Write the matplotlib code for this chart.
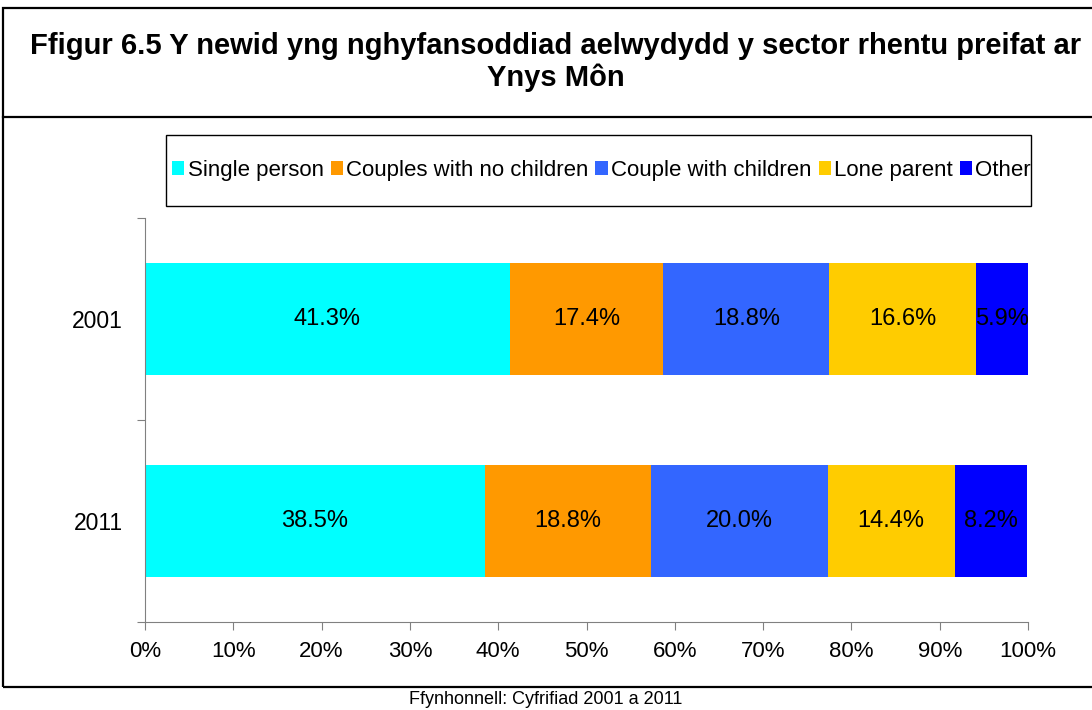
"""
Stacked percentage bars: private rented sector household composition, Ynys Môn.
"""

import matplotlib
matplotlib.use("Agg")
import matplotlib.pyplot as plt
from matplotlib.patches import Rectangle
from matplotlib.lines import Line2D

years = ["2001", "2011"]
categories = ["Single person", "Couples with no children", "Couple with children",
              "Lone parent", "Other"]
share_2001 = [41.3, 17.4, 18.8, 16.6, 5.9]
share_2011 = [38.5, 18.8, 20.0, 14.4, 8.2]
colours = ["#00FFFF", "#FF9900", "#3366FF", "#FFCC00", "#0000FF"]
xticks = list(range(0, 101, 10))

title = "Ffigur 6.5 Y newid yng nghyfansoddiad aelwydydd y sector rhentu preifat ar\nYnys Môn"
source = "Ffynhonnell: Cyfrifiad 2001 a 2011"


def _main():
    plt.rcParams["font.family"] = ["Liberation Sans", "DejaVu Sans"]

    W, H = 1092, 710
    fig = plt.figure(figsize=(W / 100, H / 100), dpi=100)

    def fx(px):
        return px / W

    def fy(py):
        return 1 - py / H

    # outer frame and title separator
    fig.patches.append(Rectangle((fx(3), fy(687)), fx(1095) - fx(3), fy(8) - fy(687),
                                 transform=fig.transFigure, fill=False,
                                 edgecolor="black", linewidth=1.6))
    fig.lines.append(Line2D([fx(3), 1.0], [fy(117), fy(117)], transform=fig.transFigure,
                            color="black", linewidth=1.6))

    fig.text(fx(556), fy(62), title, ha="center", va="center", fontsize=21,
             fontweight="bold", linespacing=1.15, multialignment="center")
    fig.text(0.5, fy(700), source, ha="center", va="center", fontsize=13)

    ax = fig.add_axes([fx(145), fy(622), fx(1028) - fx(145), fy(218) - fy(622)])

    data = [share_2001, share_2011]
    ypos = list(range(len(years)))
    for j, (cat, col) in enumerate(zip(categories, colours)):
        vals = [row[j] for row in data]
        lefts = [sum(row[:j]) for row in data]
        bars = ax.barh(ypos, vals, left=lefts, height=0.55, color=col, label=cat,
                       edgecolor="none")
        ax.bar_label(bars, labels=[f"{v:.1f}%" for v in vals], label_type="center",
                     fontsize=17)

    ax.set_xlim(0, 100)
    ax.set_ylim(len(years) - 0.5, -0.5)
    ax.set_xticks(xticks)
    ax.set_xticklabels([f"{t}%" for t in xticks], fontsize=16)
    ax.set_yticks([-0.5, 0.5, 1.5])
    ax.set_yticklabels([])
    ax.set_yticks(ypos, minor=True)
    ax.set_yticklabels(years, minor=True, fontsize=16.5)
    ax.tick_params(axis="y", which="minor", length=0, pad=16)
    ax.tick_params(axis="y", which="major", length=6, direction="out", color="#808080")
    ax.tick_params(axis="x", length=6, direction="out", color="#808080", pad=8)
    for side in ["top", "right"]:
        ax.spines[side].set_visible(False)
    for side in ["left", "bottom"]:
        ax.spines[side].set_color("#808080")

    # legend box drawn separately so the entries can run close to its edges
    fig.patches.append(Rectangle((fx(166), fy(206)), fx(1031) - fx(166), fy(135) - fy(206),
                                 transform=fig.transFigure, fill=False,
                                 edgecolor="black", linewidth=1.0))
    fig.legend(loc="center", ncol=5, mode="expand",
               bbox_to_anchor=(fx(172), fy(206), fx(1031) - fx(172), fy(135) - fy(206)),
               fontsize=16, handlelength=0.55, handleheight=0.55,
               handletextpad=0.15, columnspacing=0.3, borderpad=0.0,
               borderaxespad=0, frameon=False)

    fig.savefig("out.png", dpi=100)


if __name__ == "__main__":
    _main()
